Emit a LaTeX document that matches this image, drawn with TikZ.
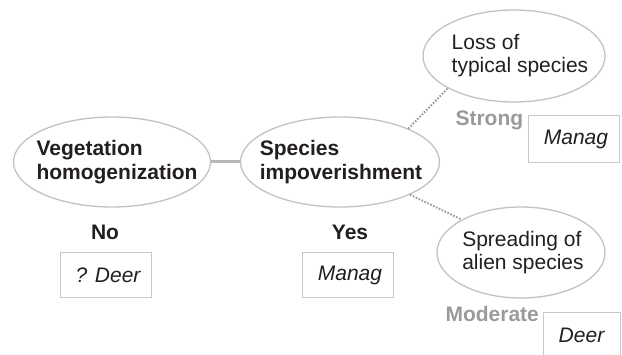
\documentclass[tikz,border=0pt]{standalone}
\usepackage{fontspec}
\setmainfont{Liberation Sans}
\usetikzlibrary{shapes.geometric}
\definecolor{inkc}{HTML}{231F20}
\definecolor{rimc}{HTML}{C2C2C2}
\definecolor{boxc}{HTML}{C8C8C8}
\definecolor{labc}{HTML}{9A9A9A}
\definecolor{linkc}{HTML}{B8B8B8}
\begin{document}
\begin{tikzpicture}[x=1pt,y=-1pt,
  every node/.style={font=\fontsize{21}{23}\selectfont, text=inkc},
  rim/.style={ellipse, draw=rimc, line width=1.3pt, inner sep=0pt},
  topic/.style={align=left, inner sep=0pt},
  bigtopic/.style={topic, font=\fontsize{21}{23.5}\selectfont\bfseries},
  actor/.style={draw=boxc, line width=1pt, minimum width=91pt, minimum height=45pt, inner sep=0pt, font=\fontsize{21}{23}\selectfont\itshape},
  answer/.style={anchor=base, font=\fontsize{21}{23}\selectfont\bfseries},
  degree/.style={anchor=base west, text=labc, font=\fontsize{21}{23}\selectfont\bfseries},
  solidlink/.style={draw=linkc, line width=3pt},
  dotlink/.style={draw=labc, line width=2pt, dash pattern=on 1.6pt off 1.6pt}]
\useasboundingbox (0,0) rectangle (622,355);

% main chain
\node[rim, minimum width=197pt, minimum height=90pt] (veg) at (112,162) {};
\node[bigtopic] (vegtext) at (117,162) {Vegetation\\homogenization};
\node[rim, minimum width=199pt, minimum height=90pt] (imp) at (340,162) {};
\node[bigtopic] (imptext) at (341,162) {Species\\impoverishment};

% consequences
\node[rim, minimum width=182pt, minimum height=92pt] (loss) at (514,56) {};
\node[topic] (losstext) at (520,56) {Loss of\\typical species};
\node[rim, minimum width=168pt, minimum height=91pt] (alien) at (521,252.5) {};
\node[topic] (alientext) at (523,252.5) {Spreading of\\alien species};

% connectors
\draw[solidlink] (veg.east) -- (imp.west);
\draw[dotlink] (imp.26) -- (loss.206);
\draw[dotlink] (imp.-25) -- (alien.151);

% answers and degrees
\node[answer] (no) at (105,240) {No};
\node[answer] (yes) at (350,240) {Yes};
\node[degree] (strong) at (452,126) {Strong};
\node[degree] (moderate) at (442,322) {Moderate};

% responsible actors
\node[actor] (deer1) at (105.5,275.5) {\hspace{5pt}? Deer};
\node[actor] (manag1) at (347.5,275.5) {\hspace{5pt}Manag};
\node[actor, minimum height=47pt] (manag2) at (573.5,139.5) {\hspace{5pt}Manag};
\node[actor, minimum width=77pt] (deer2) at (581.5,335.5) {Deer};
\end{tikzpicture}
\end{document}
